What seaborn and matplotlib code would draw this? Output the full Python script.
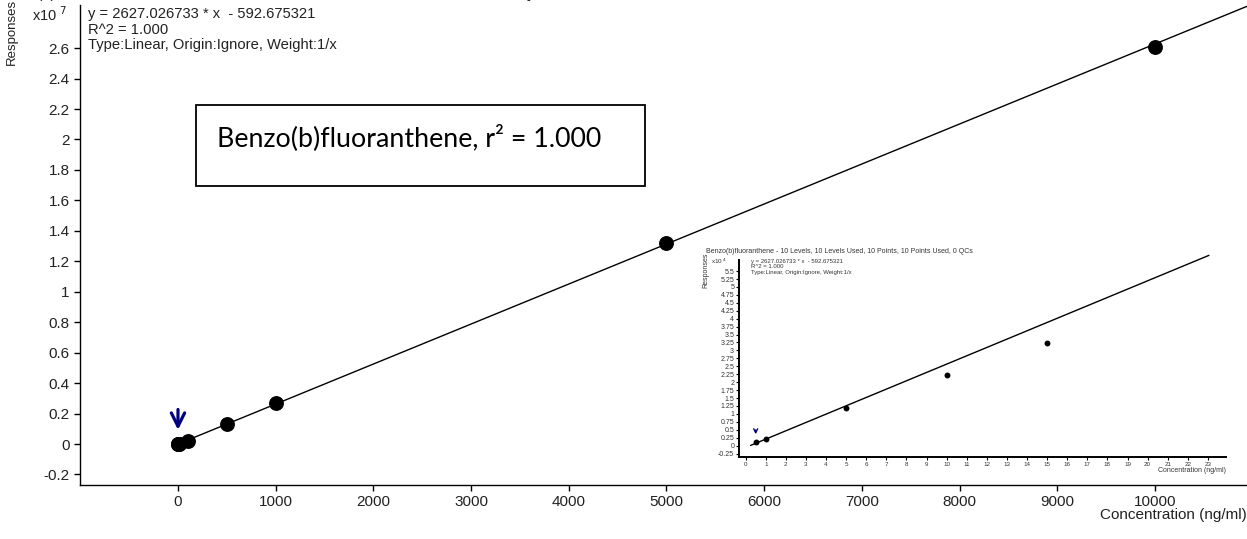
import numpy as np
import pandas as pd
import matplotlib
matplotlib.use("Agg")
import matplotlib.pyplot as plt
import seaborn as sns

# ---------------- data ----------------
conc_main = [0.5, 1, 5, 10, 15, 100, 500, 1000, 5000, 10000]
resp_main = [1100, 2100, 11800, 22300, 32300, 230000, 1290000, 2670000, 13200000, 26100000]
conc_inset = [0.5, 1, 5, 10, 15]
resp_inset = [1100, 2100, 11800, 22300, 32300]
slope = 2627.026733
intercept = -592.675321
main_xticks = [0, 1000, 2000, 3000, 4000, 5000, 6000, 7000, 8000, 9000, 10000]
main_yticks = [-0.2, 0, 0.2, 0.4, 0.6, 0.8, 1.0, 1.2, 1.4, 1.6, 1.8, 2.0, 2.2, 2.4, 2.6]
inset_xticks = list(range(0, 24))
inset_yticks = [-0.25 + 0.25 * i for i in range(24)]
eq_lines = ["y = 2627.026733 * x  - 592.675321", "R^2 = 1.000", "Type:Linear, Origin:Ignore, Weight:1/x"]
title_text = "Benzo(b)fluoranthene - 10 Levels, 10 Levels Used, 10 Points, 10 Points Used, 0 QCs"
box_text = "Benzo(b)fluoranthene, r\u00b2 = 1.000"

sns.set_theme(style="white")
plt.rcParams['font.family'] = ['Liberation Sans', 'DejaVu Sans']

W, H = 1247, 539
fig = plt.figure(figsize=(W / 100, H / 100), dpi=100)

def fx(px):
    return px / W

def fy(py):
    return 1 - py / H

# ---------------- main axes ----------------
ax = fig.add_axes([fx(80), fy(485), fx(1247) - fx(80), fy(5) - fy(485)])
df_main = pd.DataFrame({"x": conc_main, "y": np.array(resp_main) / 1e7})
xmin, xmax = -1003, 10942
fit_x = np.array([0, xmax])
df_fit = pd.DataFrame({"x": fit_x, "y": (slope * fit_x + intercept) / 1e7})
sns.lineplot(data=df_fit, x="x", y="y", ax=ax, color="black", linewidth=1.0)
sns.scatterplot(data=df_main, x="x", y="y", ax=ax, color="black", s=115,
                edgecolor="black", linewidth=0, zorder=5)
ax.set_xlim(xmin, xmax)
ax.set_ylim(-0.269, 2.883)
ax.set_xticks(main_xticks)
ax.set_xticklabels([str(v) for v in main_xticks])
ax.set_yticks(main_yticks)
ax.set_yticklabels([f"{v:g}" for v in main_yticks])
ax.set_xlabel("")
ax.set_ylabel("")
for s in ["top", "right"]:
    ax.spines[s].set_visible(False)
for s in ["left", "bottom"]:
    ax.spines[s].set_color("black")
    ax.spines[s].set_linewidth(1.0)
ax.tick_params(axis="both", which="major", direction="out", length=4, width=1,
               color="black", labelsize=11, labelcolor="#222222", left=True, bottom=True)
ax.grid(False)
ax.annotate("", xy=(0, 0.075), xytext=(0, 0.245),
            arrowprops=dict(arrowstyle="->", color="#000080", lw=2.3, mutation_scale=24))

fig.text(fx(1247), fy(515), "Concentration (ng/ml)", ha="right", va="center", fontsize=11, color="#222222")
fig.text(fx(12), fy(32), "Responses", rotation=90, ha="center", va="center", fontsize=9.5, color="#222222")
fig.text(fx(32), fy(15), "x10$^{\\ 7}$", ha="left", va="center", fontsize=10.5, color="#222222")
for y_px, t in zip([14, 30, 45], eq_lines):
    fig.text(fx(88), fy(y_px), t, ha="left", va="center", fontsize=10.6, color="#222222")
fig.text(fx(-4), fy(-6), title_text, ha="left", va="center", fontsize=10.5, color="#222222")

# text box
fig.patches.append(matplotlib.patches.Rectangle((fx(196), fy(186)), fx(645) - fx(196), fy(105) - fy(186),
                                                transform=fig.transFigure, fill=False,
                                                edgecolor="black", linewidth=1.3))
fig.text(fx(217), fy(138), box_text, ha="left", va="center", fontsize=19.3,
         family=["Lato", "DejaVu Sans"], color="black")

# ---------------- inset ----------------
ax2 = fig.add_axes([fx(739), fy(456.7), fx(1226) - fx(739), fy(260) - fy(456.7)])
df_in = pd.DataFrame({"x": conc_inset, "y": np.array(resp_inset) / 1e4})
fit_xi = np.array([0.25, 23.05])
df_fit_i = pd.DataFrame({"x": fit_xi, "y": (slope * fit_xi + intercept) / 1e4})
sns.lineplot(data=df_fit_i, x="x", y="y", ax=ax2, color="black", linewidth=1.0)
for ln in ax2.get_lines():
    ln.set_clip_on(False)
sns.scatterplot(data=df_in, x="x", y="y", ax=ax2, color="black", s=18, linewidth=0, zorder=5)
ax2.set_xlim(-0.33, 23.9)
ax2.set_ylim(-0.35, 5.85)
ax2.set_xticks(inset_xticks)
ax2.set_xticklabels([str(v) for v in inset_xticks])
ax2.set_yticks(inset_yticks)
ax2.set_yticklabels([f"{v:g}" for v in inset_yticks])
ax2.set_xlabel("")
ax2.set_ylabel("")
ax2.patch.set_alpha(0)
for s in ["top", "right"]:
    ax2.spines[s].set_visible(False)
for s in ["left", "bottom"]:
    ax2.spines[s].set_color("black")
    ax2.spines[s].set_linewidth(1.4)
ax2.tick_params(axis="x", which="major", direction="out", length=2, width=0.8,
                color="black", labelsize=4.5, labelcolor="#333333", pad=1.5, bottom=True)
ax2.tick_params(axis="y", which="major", direction="out", length=2, width=0.8,
                color="black", labelsize=5, labelcolor="#333333", pad=1.5, left=True)
ax2.grid(False)
ax2.annotate("", xy=(0.5, 0.27), xytext=(0.5, 0.58),
             arrowprops=dict(arrowstyle="->", color="#000080", lw=1.0, mutation_scale=7))

fig.text(fx(1226), fy(470), "Concentration (ng/ml)", ha="right", va="center", fontsize=5, color="#333333")
fig.text(fx(706), fy(270), "Responses", rotation=90, ha="center", va="center", fontsize=5, color="#333333")
fig.text(fx(711), fy(261), "x10$^{\\ 4}$", ha="left", va="center", fontsize=4.5, color="#333333")
fig.text(fx(706), fy(252), title_text, ha="left", va="center", fontsize=5, color="#333333")
for y_px, t in zip([261, 267, 273], eq_lines):
    fig.text(fx(751), fy(y_px), t, ha="left", va="center", fontsize=4.3, color="#333333")

fig.savefig("out.png", dpi=100)
